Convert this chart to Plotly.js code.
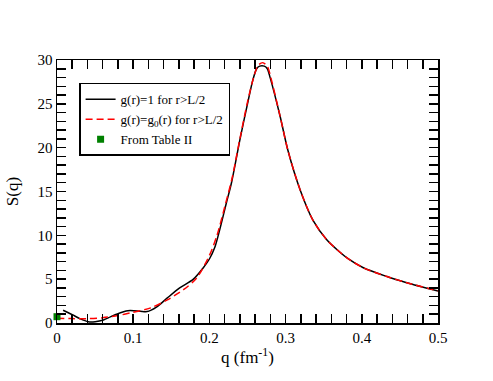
<!DOCTYPE html>
<html lang="en">
<head>
    <meta charset="UTF-8">
    <title>S(q)</title>
    <script src="https://cdn.plot.ly/plotly-3.0.1.min.js"></script>
    <style>
        body { margin: 0; padding: 0; background: white; }
        #plot { width: 493px; height: 381px; }
    </style>
</head>
<body>
    <div id="plot"></div>
    <script>
        // g(r)=1 for r>L/2
        const qBlack = [0.008, 0.02, 0.03, 0.041, 0.05, 0.061, 0.07, 0.078, 0.093, 0.109, 0.118, 0.131,
            0.144, 0.161, 0.179, 0.192, 0.2, 0.207, 0.214, 0.222, 0.229, 0.24, 0.251, 0.257, 0.262,
            0.266, 0.272, 0.276, 0.28, 0.293, 0.303, 0.319, 0.336, 0.354, 0.371, 0.381, 0.402, 0.433,
            0.459, 0.5];
        const sBlack = [1.45, 0.95, 0.5, 0.15, 0.15, 0.35, 0.7, 1.0, 1.4, 1.35, 1.3, 1.85,
            2.8, 4.0, 5.0, 6.3, 7.3, 8.6, 10.8, 13.6, 16.0, 20.9, 25.4, 27.7, 29.0,
            29.3, 29.3, 29.0, 27.9, 23.5, 19.7, 15.2, 11.7, 9.5, 8.1, 7.4, 6.3, 5.3,
            4.6, 3.65];

        // g(r)=g0(r) for r>L/2
        const qRed = [0.0, 0.02, 0.04, 0.06, 0.08, 0.096, 0.122, 0.144, 0.166, 0.183, 0.2, 0.21,
            0.22, 0.23, 0.24, 0.25, 0.258, 0.264, 0.27, 0.276, 0.28, 0.293, 0.303, 0.319, 0.336,
            0.354, 0.371, 0.381, 0.402, 0.433, 0.459, 0.5];
        const sRed = [0.55, 0.5, 0.5, 0.6, 0.85, 1.15, 1.7, 2.6, 3.8, 5.1, 7.7, 10.0,
            13.2, 16.6, 21.0, 25.2, 28.0, 29.4, 29.7, 29.3, 28.2, 23.5, 19.7, 15.2, 11.7,
            9.5, 8.1, 7.4, 6.3, 5.3, 4.6, 3.65];

        // From Table II
        const qTable = [0.0];
        const sTable = [0.72];

        // ticks: labelled every 0.1 / 5, unlabelled ones in between
        const xTickVals = [0, 0.02, 0.04, 0.06, 0.08, 0.1, 0.12, 0.14, 0.16, 0.18, 0.2, 0.22, 0.24,
            0.26, 0.28, 0.3, 0.32, 0.34, 0.36, 0.38, 0.4, 0.42, 0.44, 0.46, 0.48, 0.5];
        const xTickText = ['0', '', '', '', '', '0.1', '', '', '', '', '0.2', '', '', '', '', '0.3',
            '', '', '', '', '0.4', '', '', '', '', '0.5'];
        const yTickVals = [0, 1, 2, 3, 4, 5, 6, 7, 8, 9, 10, 11, 12, 13, 14, 15, 16, 17, 18, 19, 20,
            21, 22, 23, 24, 25, 26, 27, 28, 29, 30];
        const yTickText = ['0', '', '', '', '', '5', '', '', '', '', '10', '', '', '', '', '15',
            '', '', '', '', '20', '', '', '', '', '25', '', '', '', '', '30'];

        // plotly quotes the family itself, so no quotes and no fallback list
        const serif = 'Liberation Serif';

        const traces = [
            {
                x: qBlack, y: sBlack, type: 'scatter', mode: 'lines',
                line: {color: 'black', width: 1.5, shape: 'spline', smoothing: 0.8},
                name: 'g(r)=1 for r&gt;L/2'
            },
            {
                x: qRed, y: sRed, type: 'scatter', mode: 'lines',
                line: {color: '#ff0000', width: 1.5, dash: '7px,4px', shape: 'spline', smoothing: 0.8},
                name: 'g(r)=g<sub>0</sub>(r) for r&gt;L/2'
            },
            {
                x: qTable, y: sTable, type: 'scatter', mode: 'markers',
                marker: {color: '#008000', size: 7, symbol: 'square'},
                cliponaxis: false,
                name: 'From Table II'
            }
        ];

        const layout = {
            width: 493, height: 381,
            margin: {l: 57, r: 55, t: 60, b: 58},
            paper_bgcolor: 'white', plot_bgcolor: 'white',
            showlegend: true,
            legend: {
                x: 0.058, y: 0.913, xanchor: 'left', yanchor: 'top',
                bgcolor: 'white', bordercolor: 'black', borderwidth: 1.5,
                font: {family: serif, size: 13, color: 'black'},
                tracegroupgap: 0
            },
            xaxis: {
                range: [0, 0.5], tickmode: 'array', tickvals: xTickVals, ticktext: xTickText,
                showline: true, linecolor: 'black', linewidth: 1.5, mirror: 'ticks',
                ticks: 'inside', ticklen: 9, tickwidth: 1.5, tickcolor: 'black',
                showgrid: false, zeroline: false,
                tickfont: {family: serif, size: 15, color: 'black'},
                title: {text: 'q (fm<sup>-1</sup>)', font: {family: serif, size: 17, color: 'black'}, standoff: 6}
            },
            yaxis: {
                range: [0, 30], tickmode: 'array', tickvals: yTickVals, ticktext: yTickText,
                showline: true, linecolor: 'black', linewidth: 1.5, mirror: 'ticks',
                ticks: 'inside', ticklen: 9, tickwidth: 1.5, tickcolor: 'black',
                showgrid: false, zeroline: false,
                tickfont: {family: serif, size: 15, color: 'black'},
                title: {text: 'S(q)', font: {family: serif, size: 17, color: 'black'}, standoff: 14}
            }
        };

        Plotly.newPlot('plot', traces, layout, {staticPlot: true});
    </script>
</body>
</html>
